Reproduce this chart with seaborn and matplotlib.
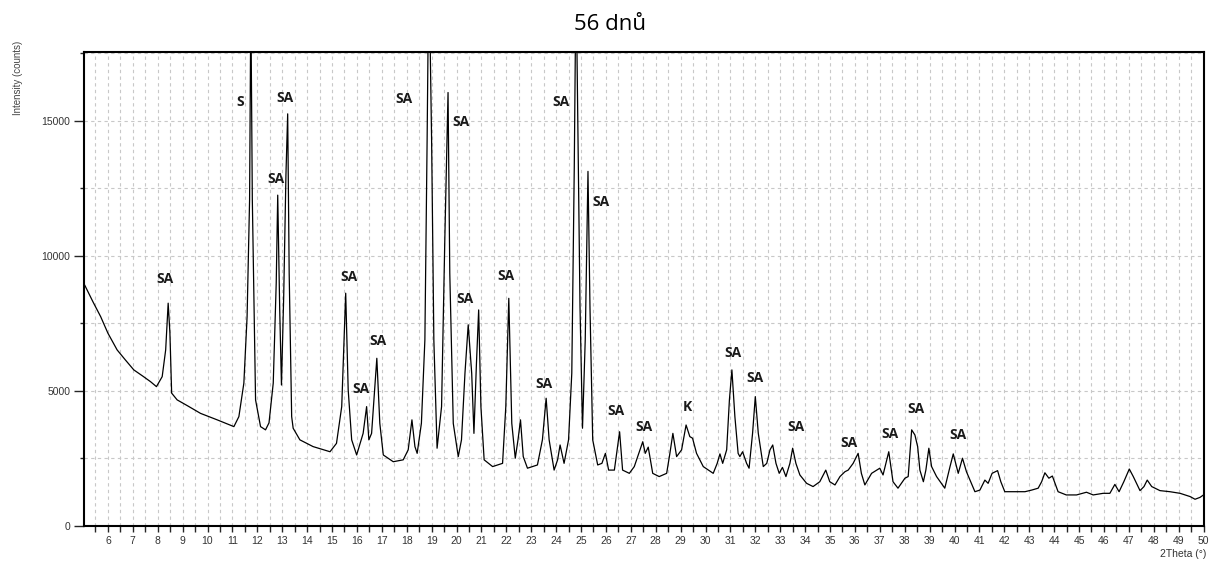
import matplotlib
matplotlib.use("Agg")
import matplotlib.pyplot as plt
import seaborn as sns
import pandas as pd
from matplotlib.ticker import MultipleLocator

# XRD pattern (2Theta in degrees, intensity in counts)
two_theta = [
    5.05, 5.10, 5.40, 5.71, 6.00, 6.37, 6.70, 7.04, 7.40, 7.71, 7.95, 8.18, 8.32,
    8.42, 8.49, 8.56, 8.78, 9.20, 9.72, 10.39, 11.06, 11.26, 11.46, 11.59, 11.69,
    11.74, 11.80, 11.93, 12.13, 12.33, 12.47, 12.64, 12.76, 12.82, 12.90, 12.97,
    13.06, 13.15, 13.22, 13.28, 13.38, 13.44,
    13.71, 14.24, 14.92, 15.18, 15.39, 15.55, 15.65, 15.79, 15.99, 16.25, 16.39,
    16.48, 16.59, 16.80, 16.92, 17.06, 17.46, 17.86, 18.06, 18.21, 18.33, 18.42,
    18.59, 18.73,
    18.82, 18.89, 19.00, 19.09, 19.22, 19.40, 19.53, 19.66, 19.73, 19.87, 20.07,
    20.20, 20.34, 20.47, 20.61, 20.70, 20.80, 20.89, 20.98,
    21.11, 21.45, 21.85, 21.98, 22.10, 22.22, 22.36, 22.47, 22.57, 22.68, 22.85,
    23.25, 23.45, 23.60, 23.72, 23.92, 24.06, 24.16, 24.32, 24.50, 24.63, 24.73,
    24.80, 24.86, 24.96, 25.06, 25.17, 25.28, 25.36, 25.47, 25.67, 25.84, 25.98,
    26.11, 26.34,
    26.55, 26.67, 26.94, 27.14, 27.37, 27.48, 27.58, 27.70, 27.88, 28.14, 28.44,
    28.57, 28.69, 28.84, 29.04, 29.22, 29.37, 29.48, 29.64, 29.91, 30.31, 30.47,
    30.58, 30.69, 30.85, 30.96, 31.06, 31.18, 31.31, 31.38, 31.49, 31.65, 31.75,
    31.89, 32.00, 32.12, 32.32, 32.46, 32.59, 32.70, 32.83, 32.96, 33.09, 33.23,
    33.39, 33.50, 33.63,
    33.79, 34.06, 34.32, 34.59, 34.83, 34.99, 35.20, 35.40, 35.60, 35.73, 35.93,
    36.13, 36.26, 36.40, 36.67, 37.00, 37.13, 37.36, 37.53, 37.73, 38.01, 38.14,
    38.28, 38.41, 38.52, 38.61, 38.75, 38.85, 38.97, 39.08, 39.28, 39.61, 39.82,
    39.95, 40.15, 40.32, 40.48, 40.68, 40.82, 41.02, 41.22, 41.35, 41.51, 41.73,
    41.86,
    42.02, 42.43, 42.83, 43.10, 43.36, 43.50, 43.63, 43.79, 43.93, 44.16, 44.49,
    44.90, 45.30, 45.57, 45.97, 46.24, 46.44, 46.61, 46.80, 47.02, 47.18, 47.45,
    47.61, 47.74, 47.92, 48.25, 48.65, 49.06, 49.46, 49.66, 49.86, 50.00,
]
counts = [
    8950, 8860, 8300, 7750, 7140, 6520, 6150, 5780, 5550, 5345, 5160, 5530, 6520,
    8250, 7150, 4920, 4670, 4450, 4170, 3930, 3680, 4050, 5290, 7750, 12080,
    19500, 12080, 4670, 3680, 3560, 3820, 5290, 9000, 12250, 8000, 5220,
    8500, 13000, 15260, 9360, 4050, 3620,
    3190, 2940, 2750, 3060, 4420, 8620, 5040, 3190, 2630, 3430, 4420,
    3190, 3430, 6210, 3800, 2630, 2380, 2450, 2820, 3930, 2940, 2690,
    3800, 6890,
    14300, 21000, 14300, 6890, 2880, 4420, 10590, 16050, 9360, 3800, 2570,
    3190, 5660, 7450, 5660, 3430, 6000, 8000, 4420,
    2450, 2200, 2320, 4420, 8430, 3800, 2510, 3190, 3930, 2570, 2140,
    2260, 3190, 4730, 3190, 2070, 2450, 3000, 2320, 3190, 5660, 13310,
    20500, 15900, 8120, 3620, 6890, 13130, 8120, 3190, 2260, 2320, 2690,
    2070, 2070,
    3490, 2070, 1950, 2200, 2820, 3120, 2690, 2920, 1950, 1830, 1950,
    2690, 3430, 2570, 2820, 3740, 3310, 3250, 2690, 2200, 1950, 2320,
    2670, 2320, 2820, 4670, 5780, 4050, 2690, 2570, 2750, 2320, 2140,
    3430, 4790, 3430, 2200, 2320, 2820, 3000, 2320, 1950, 2170, 1830,
    2320, 2880, 2320,
    1890, 1580, 1460, 1640, 2070, 1640, 1520, 1830, 2010, 2070, 2320,
    2690, 1950, 1520, 1950, 2140, 1890, 2750, 1640, 1400, 1770, 1830,
    3560, 3370, 2940, 2070, 1640, 2070, 2880, 2200, 1830, 1400, 2200,
    2670, 1950, 2510, 2010, 1580, 1270, 1330, 1700, 1580, 1950, 2050,
    1640,
    1270, 1270, 1270, 1330, 1400, 1640, 1970, 1770, 1850, 1270, 1150,
    1150, 1250, 1150, 1210, 1210, 1540, 1270, 1640, 2110, 1830, 1310,
    1460, 1700, 1460, 1310, 1270, 1210, 1090, 990, 1060, 1150,
]

# phase labels (SA, S, K) and where they sit
label_text = ['SA', 'S', 'SA', 'SA', 'SA', 'SA', 'SA', 'SA', 'SA', 'SA', 'SA', 'SA',
              'SA', 'SA', 'SA', 'SA', 'K', 'SA', 'SA', 'SA', 'SA', 'SA', 'SA', 'SA']
label_x = [8.29, 11.30, 13.11, 12.75, 17.89, 20.18, 24.19, 25.80, 15.68, 16.16, 16.84, 20.34,
           21.98, 23.51, 26.41, 27.54, 29.26, 31.10, 31.98, 33.63, 35.76, 37.40, 38.45, 40.14]
label_y = [9150, 15700, 15850, 12850, 15815, 14960, 15700, 12000, 9220, 5075, 6850, 8400,
           9260, 5260, 4260, 3670, 4410, 6410, 5480, 3670, 3070, 3400, 4330, 3370]

assert len(two_theta) == len(counts)

sns.set_theme(style="white")
plt.rcParams['font.family'] = ['Open Sans', 'DejaVu Sans']

fig = plt.figure(figsize=(12.2, 5.62), dpi=100)
ax = fig.add_axes([84 / 1220, 36 / 562, 1120 / 1220, 474 / 562])

df = pd.DataFrame({'2Theta': two_theta, 'Counts': counts})
sns.lineplot(data=df, x='2Theta', y='Counts', ax=ax, color='black', lw=0.9,
             estimator=None, sort=False)

ax.set_xlim(5.04, 50.02)
ax.set_ylim(0, 17550)
ax.set_xlabel('')
ax.set_ylabel('')

ax.xaxis.set_major_locator(MultipleLocator(1))
ax.xaxis.set_minor_locator(MultipleLocator(0.5))
ax.yaxis.set_major_locator(MultipleLocator(5000))
ax.yaxis.set_minor_locator(MultipleLocator(2500))

ax.grid(which='both', ls=(0, (3, 3)), color='#c8c8c8', lw=0.8)
ax.set_axisbelow(True)

ax.tick_params(which='both', direction='out', bottom=True, left=True,
               labelsize=7.5, labelcolor='#333333', width=1, pad=3)
ax.tick_params(axis='x', which='both', length=4)
ax.tick_params(axis='y', which='major', length=7)
ax.tick_params(axis='y', which='minor', length=3)
for lab in ax.get_xticklabels() + ax.get_yticklabels():
    lab.set_family(['Liberation Sans', 'DejaVu Sans'])

for side in ['left', 'bottom', 'top', 'right']:
    ax.spines[side].set_color('black')
    ax.spines[side].set_linewidth(1.5)

for t, x, y in zip(label_text, label_x, label_y):
    ax.text(x, y, t, ha='center', va='center', fontsize=10, fontweight='bold', color='#1a1a1a')

fig.text(0.5, 1 - 25 / 562, '56 dnů', ha='center', va='center', fontsize=16, color='black')
fig.text(18 / 1220, 1 - 78 / 562, 'Intensity (counts)', rotation=90, ha='center', va='center',
         fontsize=7, color='#444444', family=['Liberation Sans', 'DejaVu Sans'])
fig.text(1206 / 1220, 1 - 554 / 562, '2Theta (°)', ha='right', va='center',
         fontsize=7.5, color='#333333', family=['Liberation Sans', 'DejaVu Sans'])

fig.savefig('out.png', dpi=100)
